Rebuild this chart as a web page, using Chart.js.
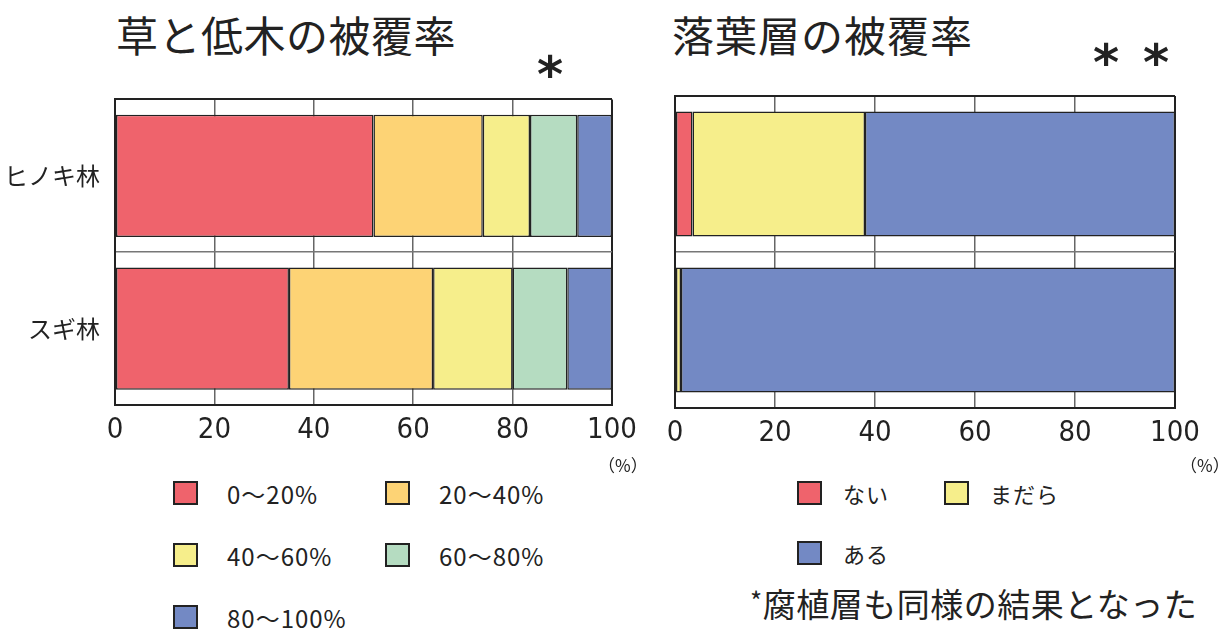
<!DOCTYPE html>
<html lang="ja">
<head>
<meta charset="utf-8">
<script src="https://cdn.jsdelivr.net/npm/chart.js@4/dist/chart.umd.min.js"></script>
<style>
  html, body { margin: 0; padding: 0; background: #fff; }
  body { width: 1231px; height: 630px; position: relative; overflow: hidden;
         font-family: "Noto Sans CJK JP", "Noto Sans", sans-serif; color: #222; }
  canvas { position: absolute; }
  .abs { position: absolute; line-height: 1; white-space: nowrap; }
  .title { font-size: 42px; letter-spacing: 1px; }
  .star { font-size: 50px; font-weight: bold; font-family: "DejaVu Sans", sans-serif; }
  .unit { font-size: 17px; }
  .legend { position: absolute; display: grid; }
  .item { display: flex; align-items: center; height: 24px; letter-spacing: 1px; }
  .box { width: 21px; height: 20px; border: 2px solid #222; flex: none; }
  .note { font-size: 33px; letter-spacing: 0.5px; }
</style>
</head>
<body>
<div class="abs title" style="left:116px; top:13px; letter-spacing:0.5px;">草と低木の被覆率</div>
<div class="abs title" style="left:672px; top:13px;">落葉層の被覆率</div>
<div class="abs star" style="left:537px; top:50px;">*</div>
<div class="abs star" style="left:1093px; top:38px;">*</div>
<div class="abs star" style="left:1143px; top:38px;">*</div>

<canvas id="coverChart" width="660" height="390" style="left:0; top:70px;"></canvas>
<canvas id="litterChart" width="581" height="380" style="left:650px; top:80px;"></canvas>

<div class="abs unit" style="left:598px; top:456px;">（%）</div>
<div class="abs unit" style="left:1180px; top:456px;">（%）</div>

<div class="legend" id="coverLegend" style="left:173px; top:481px; grid-template-columns: 212px 212px; row-gap: 38px; font-size:24px;"></div>
<div class="legend" id="litterLegend" style="left:797px; top:481px; grid-template-columns: 147px 147px; row-gap: 36px; font-size:22px;"></div>

<div class="abs note" style="left:750px; top:587px;"><span style="font-size:26px; vertical-align:top;">*</span>腐植層も同様の結果となった</div>

<script>
// categories
const forests = ['ヒノキ林', 'スギ林'];
const xTicks = [0, 20, 40, 60, 80, 100];

// 草と低木の被覆率 (% of plots in each cover class)
const coverLabels = ['0～20%', '20～40%', '40～60%', '60～80%', '80～100%'];
const coverColors = ['#ef636c', '#fdd375', '#f6ee8b', '#b5dcc1', '#7389c4'];
const cover0to20 = [52, 35];
const cover20to40 = [22, 29];
const cover40to60 = [9.5, 16];
const cover60to80 = [9.5, 11];
const cover80to100 = [7, 9];

// 落葉層の被覆率
const litterLabels = ['ない', 'まだら', 'ある'];
const litterColors = ['#ef636c', '#f6ee8b', '#7389c4'];
const litterNone = [3.5, 0];
const litterPatchy = [34.5, 1.2];
const litterPresent = [62, 98.8];

const tickFont = { family: '"DejaVu Sans Condensed", "Liberation Sans", sans-serif', size: 29 };

function makeDatasets(series, labels, colors) {
    return series.map((data, i) => ({
        label: labels[i],
        data: data,
        backgroundColor: colors[i],
        borderColor: '#222',
        borderWidth: 1.5,
        borderSkipped: false,
        barPercentage: 1,
        categoryPercentage: 0.8
    }));
}

function makeOptions(showYLabels, yWidth, xHeight, pad) {
    return {
        indexAxis: 'y',
        responsive: false,
        animation: false,
        layout: { padding: pad },
        plugins: { legend: { display: false }, tooltip: { enabled: false } },
        scales: {
            x: {
                stacked: true,
                min: 0,
                max: 100,
                afterBuildTicks: (scale) => { scale.ticks = xTicks.map(v => ({ value: v })); },
                afterFit: (scale) => { scale.height = xHeight; },
                grid: {
                    drawTicks: false,
                    color: (ctx) => (ctx.tick && (ctx.tick.value === 0 || ctx.tick.value === 100)) ? '#222' : '#666',
                    lineWidth: (ctx) => (ctx.tick && (ctx.tick.value === 0 || ctx.tick.value === 100)) ? 2 : 1.5
                },
                border: { color: '#222', width: 2 },
                ticks: { color: '#222', font: tickFont, padding: 8, maxRotation: 0 }
            },
            y: {
                stacked: true,
                afterFit: (scale) => { scale.width = yWidth; },
                grid: {
                    offset: true,
                    drawTicks: false,
                    color: (ctx) => (ctx.index === 0 || ctx.index === forests.length) ? '#222' : '#777',
                    lineWidth: (ctx) => (ctx.index === 0 || ctx.index === forests.length) ? 2 : 1.5
                },
                border: { color: '#222', width: 2 },
                ticks: {
                    display: showYLabels,
                    color: '#222',
                    padding: 15,
                    font: { family: '"Noto Sans CJK JP", sans-serif', size: 24 }
                }
            }
        }
    };
}

new Chart(document.getElementById('coverChart'), {
    type: 'bar',
    data: {
        labels: forests,
        datasets: makeDatasets([cover0to20, cover20to40, cover40to60, cover60to80, cover80to100], coverLabels, coverColors)
    },
    options: makeOptions(true, 115, 55, { top: 9, right: 48, bottom: 0, left: 0 })
});

new Chart(document.getElementById('litterChart'), {
    type: 'bar',
    data: {
        labels: forests,
        datasets: makeDatasets([litterNone, litterPatchy, litterPresent], litterLabels, litterColors)
    },
    options: makeOptions(false, 25, 52, { top: 16, right: 56, bottom: 0, left: 0 })
});

// HTML legends built from the same label/colour arrays
function buildLegend(id, labels, colors, gap) {
    const el = document.getElementById(id);
    el.innerHTML = labels.map((l, i) => `
        <div class="item"><span class="box" style="background:${colors[i]}"></span><span style="margin-left:${gap}px">${l}</span></div>
    `).join('');
}
buildLegend('coverLegend', coverLabels, coverColors, 29);
buildLegend('litterLegend', litterLabels, litterColors, 21);
</script>
</body>
</html>
